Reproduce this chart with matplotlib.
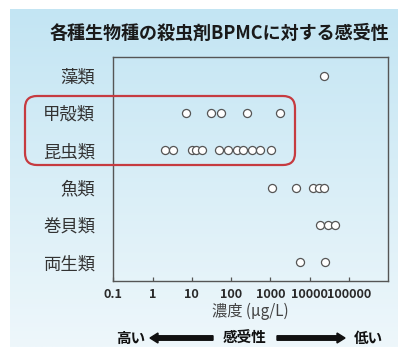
import numpy as np
import matplotlib
matplotlib.use("Agg")
import matplotlib.pyplot as plt
from matplotlib.patches import FancyBboxPatch, FancyArrow
from matplotlib.colors import LinearSegmentedColormap

plt.rcParams['font.family'] = ['Noto Sans CJK JP', 'DejaVu Sans']

# Organism groups (top to bottom) and measured toxic concentrations (µg/L)
groups = ["藻類", "甲殻類", "昆虫類", "魚類", "巻貝類", "両生類"]
algae = [23000]
crustaceans = [7.2, 31, 56, 250, 1800]
insects = [2.1, 3.3, 10, 13, 18, 48, 81, 140, 200, 340, 550, 1050]
fish = [1100, 4500, 12000, 17000, 23000]
snails = [18000, 30000, 45000]
amphibians = [5500, 24000]
series = [algae, crustaceans, insects, fish, snails, amphibians]

xticks = [0.1, 1, 10, 100, 1000, 10000, 100000]
xticklabels = ["0.1", "1", "10", "100", "1000", "10000", "100000"]

W, H = 408, 347
fig = plt.figure(figsize=(W / 100, H / 100), dpi=100)

# Background panel with a soft vertical gradient (pixel coordinates)
bg = fig.add_axes([0, 0, 1, 1], zorder=-2)
bg.set_xlim(0, W)
bg.set_ylim(H, 0)
bg.axis("off")
cmap = LinearSegmentedColormap.from_list("panel", ["#c3e5f3", "#eef7fb"])
grad = np.linspace(0, 1, 256).reshape(-1, 1)
bg.imshow(grad, cmap=cmap, extent=[10, 398, H, 9], aspect="auto", zorder=0)

# Main scatter axes
left, right, top, bottom = 113.3, 388.3, 57, 281
ax = fig.add_axes([left / W, (H - bottom) / H, (right - left) / W, (bottom - top) / H])
ax.set_facecolor("none")
for i, vals in enumerate(series):
    ax.plot(vals, [i] * len(vals), linestyle="none", marker="o", markersize=5.8,
            markerfacecolor="white", markeredgecolor="#555555", markeredgewidth=0.9)
ax.set_xscale("log")
ax.set_xlim(0.1, 1e6)
ax.set_ylim(len(groups) - 0.5, -0.5)
ax.set_xticks(xticks)
ax.set_xticklabels(xticklabels, fontweight="bold")
ax.xaxis.set_minor_locator(matplotlib.ticker.NullLocator())
ax.tick_params(axis="x", direction="in", length=3, width=0.9, color="#555555",
               labelsize=9.2, labelcolor="#2a2a2a", pad=5)
ax.set_yticks(range(len(groups)))
ax.set_yticklabels(groups)
ax.tick_params(axis="y", length=0, labelsize=12.5, labelcolor="#333333", pad=13)
for s in ax.spines.values():
    s.set_color("#555555")
    s.set_linewidth(1.0)
ax.set_xlabel("濃度 (µg/L)", fontsize=11, color="#444444", labelpad=1)

# Title
fig.text(219 / W, 1 - 33 / H, "各種生物種の殺虫剤BPMCに対する感受性", ha="center", va="center",
         fontsize=13, fontweight="bold", color="#1a1a1a")

# Highlight box around crustaceans and insects
box = FancyBboxPatch((25, 96), 270, 69, boxstyle="round,pad=0,rounding_size=12",
                     fill=False, edgecolor="#c63b40", linewidth=1.6, zorder=5)
overlay = fig.add_axes([0, 0, 1, 1], zorder=3)
overlay.set_xlim(0, W)
overlay.set_ylim(H, 0)
overlay.axis("off")
overlay.add_patch(box)

# Sensitivity scale at the bottom
ytxt = 338
overlay.text(131, ytxt, "高い", ha="center", va="center", fontsize=10.5, fontweight="bold", color="#111111")
overlay.text(245, ytxt, "感受性", ha="center", va="center", fontsize=10.5, fontweight="bold", color="#111111")
overlay.text(368, ytxt, "低い", ha="center", va="center", fontsize=10.5, fontweight="bold", color="#111111")
overlay.add_patch(FancyArrow(213, ytxt, -63, 0, width=4.5, head_width=10, head_length=8,
                             length_includes_head=True, color="#111111"))
overlay.add_patch(FancyArrow(277, ytxt, 68, 0, width=4.5, head_width=10, head_length=8,
                             length_includes_head=True, color="#111111"))

fig.savefig("out.png", dpi=100)
